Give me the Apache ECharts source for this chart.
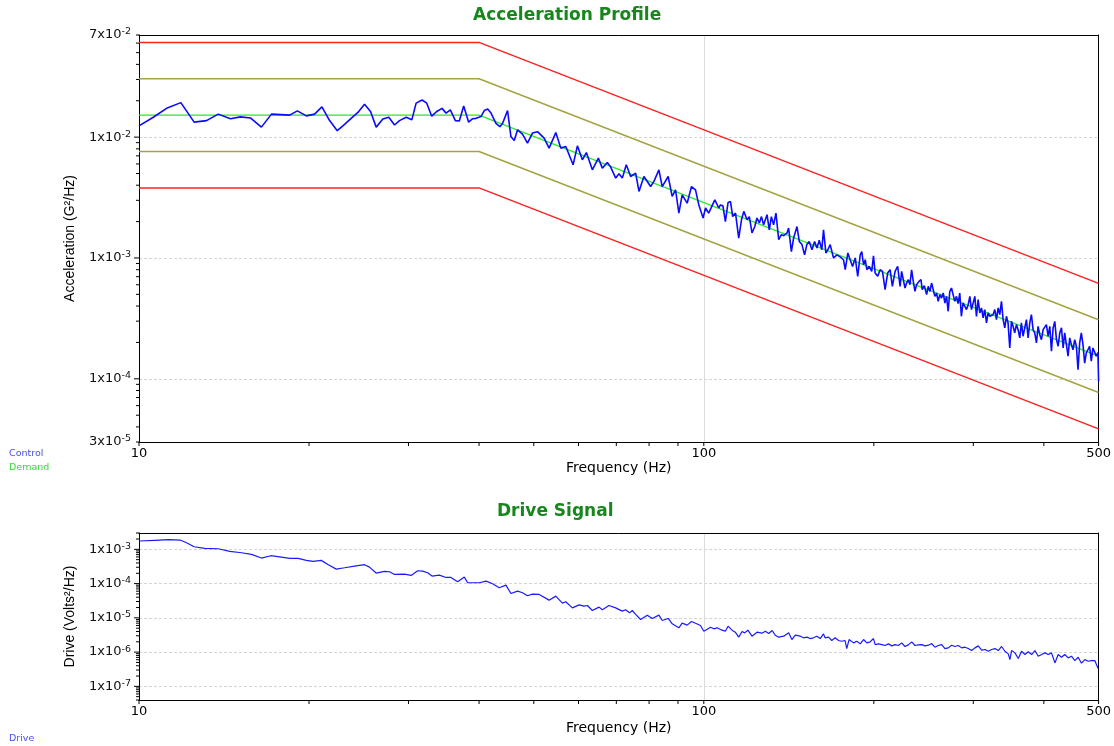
<!DOCTYPE html>
<html><head><meta charset="utf-8">
<script src="https://cdn.jsdelivr.net/npm/echarts@6/dist/echarts.min.js"></script>
<style>html,body{margin:0;padding:0;background:#fff;}#chart{width:1114px;height:746px;}</style>
</head><body><div id="chart"></div>
<script>
// ---- Acceleration profile: reference & tolerance lines (Hz, G^2/Hz) ----
const limitFreq = [10, 40, 500];
const demandPsd = [0.0152, 0.0152, 1.54e-4];
const alarmHighPsd = [0.0304, 0.0304, 3.08e-4];
const alarmLowPsd = [0.0076, 0.0076, 7.7e-5];
const abortHighPsd = [0.0608, 0.0608, 6.16e-4];
const abortLowPsd = [0.0038, 0.0038, 3.85e-5];

// ---- Control (measured) PSD ----
const controlFreq = [10.0,10.6,11.19,11.86,12.52,13.17,13.81,14.52,15.12,15.75,16.47,17.16,18.48,19.07,19.78,20.46,21.08,21.75,22.44,22.96,23.75,24.41,25.08,25.70,26.30,27.02,27.69,28.34,28.92,29.72,30.41,30.95,31.71,32.32,32.98,33.66,34.40,34.97,35.58,36.32,36.91,37.57,38.34,38.97,
39.5,40.32,40.86,41.43,42.0,42.85,43.55,44.03,44.93,45.55,46.17,46.8,47.75,48.73,49.73,50.76,52.15,53.22,54.7,55.82,56.97,58.69,59.73,60.95,61.95,63.49,65.06,66.12,67.48,68.41,69.82,70.77,71.73,72.9,74.22,75.74,76.77,78.34,80.5,81.6,83.27,84.4,86.48,87.9,89.12,90.33,91.56,93.44,95.1,96.67,97.99,99.72,100.7,102.0,104.6,106.3,
107.0,108.1,109.2,110.4,111.5,112.5,113.8,115.3,116.6,117.7,119.3,120.4,121.7,123.1,124.2,125.4,126.5,127.6,129.4,130.6,131.7,132.9,134.2,135.7,137.2,138.5,140.4,141.3,142.9,144.2,146.2,147.6,149.2,150.8,152.2,153.7,155.4,157.1,158.6,160.1,161.8,162.9,164.5,165.8,167.4,168.5,169.7,172.0,174.4,176.7,178.0,179.9,181.6,183.4,185.4,187.3,189.2,190.4,191.8,193.1,194.4,196.2,198.3,199.7,201.1,203.2,205.2,207.2,209.4,211.6,213.7,215.7,218.1,220.4,222.6,
224.0,225.6,227.1,228.6,230.2,231.7,233.3,234.9,236.5,238.1,240.4,242.4,243.6,245.7,248.0,249.7,251.4,253.1,254.8,256.5,258.3,260.0,261.8,263.6,265.4,267.2,269.0,270.8,272.6,274.5,276.3,278.2,280.1,282.0,283.9,285.8,287.7,289.9,291.8,293.8,295.8,297.8,299.8,301.9,303.9,306.0,308.1,310.2,312.3,314.4,316.6,318.7,320.9,323.1,325.3,327.5,329.7,332.0,334.2,336.5,338.8,341.1,343.4,345.7,348.1,350.5,352.8,355.2,357.7,360.1,362.6,365.0,367.5,370.0,372.6,375.1,377.7,380.2,382.8,385.4,388.1,390.7,393.4,396.1,398.8,401.5,404.2,407.0,409.8,412.6,415.4,418.2,421.1,424.0,426.8,429.8,432.7,435.5,438.5,441.5,444.5,447.5,450.5,453.6,456.7,459.8,462.9,466.0,469.2,472.4,475.6,478.8,482.0,485.3,488.6,491.9,495.2,498.6,500.0];
const controlPsd = [0.0124,0.0146,0.0173,0.0193,0.0133,0.0137,0.0155,0.0142,0.0147,0.0144,0.0121,0.0155,0.0152,0.0165,0.0150,0.0155,0.0178,0.0137,0.0113,0.0124,0.0143,0.0160,0.0187,0.0163,0.0121,0.0141,0.0146,0.0126,0.0137,0.0146,0.0139,0.0191,0.0203,0.0191,0.0149,0.0163,0.0173,0.0158,0.0168,0.0137,0.0136,0.0181,0.0133,0.0142,
0.0143,0.0148,0.0166,0.0171,0.0158,0.0130,0.0122,0.0130,0.0166,0.0101,0.00936,0.0115,0.0106,0.00891,0.0108,0.0111,0.0098,0.00811,0.0109,0.00811,0.00836,0.0059,0.00847,0.00649,0.00745,0.00536,0.0067,0.00554,0.00616,0.00565,0.00458,0.00497,0.00458,0.0059,0.00472,0.00504,0.00355,0.00472,0.0039,0.0043,0.00536,0.0039,0.00472,0.00323,0.00366,0.00235,0.00333,0.00284,0.0039,0.00366,0.00275,0.00214,0.00259,0.00235,0.00303,0.00259,
0.00275,0.0027,0.0020,0.00288,0.00293,0.0022,0.00235,0.00146,0.00207,0.00243,0.00207,0.0022,0.00161,0.00182,0.00214,0.00195,0.0022,0.00188,0.00228,0.00171,0.0022,0.00188,0.00235,0.00142,0.00156,0.00153,0.00161,0.00177,0.00113,0.00146,0.00182,0.00137,0.00129,0.00106,0.00129,0.00137,0.00117,0.00137,0.00121,0.0014,0.00117,0.00171,0.0011,0.00117,0.00129,0.00133,0.0010,0.00106,0.00102,0.000967,0.0008,0.0011,0.000967,0.000851,0.001,0.000705,0.00106,0.00113,0.000879,0.000967,0.0008,0.000851,0.000774,0.00104,0.00075,0.000705,0.0008,0.000774,0.000547,0.00075,0.0008,0.000582,0.000774,0.000851,0.000582,
0.000774,0.00075,0.000564,0.00062,0.000661,0.000601,0.000799,0.00064,0.000529,0.000601,0.00064,0.000661,0.000546,0.00059,0.000497,0.000582,0.000529,0.00062,0.000628,0.000481,0.000513,0.000438,0.000497,0.000466,0.000513,0.000424,0.000481,0.000362,0.000529,0.000564,0.000497,0.000438,0.000481,0.000419,0.000513,0.000329,0.000424,0.000398,0.000374,0.000411,0.000481,0.000374,0.000386,0.000481,0.000329,0.000452,0.000351,0.000386,0.000319,0.000374,0.00029,0.000351,0.000329,0.000319,0.00034,0.000374,0.000309,0.000386,0.00034,0.000438,0.000309,0.000264,0.000329,0.00029,0.00018,0.000299,0.000272,0.00024,0.000281,0.000255,0.000218,0.00029,0.000225,0.000264,0.000309,0.000218,0.00029,0.00034,0.000255,0.00024,0.000198,0.000272,0.000232,0.000211,0.000255,0.000255,0.000281,0.000225,0.000272,0.000169,0.000264,0.000299,0.000211,0.000186,0.00024,0.000264,0.00018,0.00024,0.000192,0.000154,0.000218,0.000192,0.000174,0.000211,0.000186,0.000119,0.000198,0.00024,0.000192,0.000135,0.000164,0.000174,0.000186,0.00014,0.00018,0.000174,0.000154,0.000165,0.0000955];

// ---- Drive signal PSD (Volts^2/Hz) ----
const driveFreq = [10.0,10.67,11.27,11.82,12.14,12.52,13.08,13.81,14.48,15.19,15.82,16.47,17.11,17.87,18.49,19.12,19.79,20.33,21.02,21.6,22.35,23.12,24.08,25.08,25.59,26.29,27.2,27.77,28.34,29.51,30.32,31.15,31.79,32.44,33.02,34.02,34.96,35.68,36.66,37.67,
38.19,40.04,41.15,42.27,43.44,44.63,45.55,46.8,47.76,48.74,49.74,51.11,53.23,54.69,56.19,56.96,58.52,60.13,61.37,62.21,63.48,65.23,66.12,67.94,69.8,71.72,72.7,73.9,74.7,75.73,77.28,79.41,81.04,83.27,84.41,86.49,87.91,90.32,91.55,93.43,95.09,96.91,98.65,100.0,101.4,102.8,104.2,105.6,107.7,109.2,110.4,112.2,113.7,115.3,116.9,118.1,119.7,121.7,124.2,126.8,128.5,130.3,132.1,133.8,135.7,138.5,141.3,
143.2,145.2,146.2,148.2,150.2,152.2,154.3,156.4,158.5,160.7,162.9,164.0,166.3,168.5,170.8,173.2,175.5,177.9,179.1,180.8,184.1,186.6,189.2,191.8,194.4,197.0,199.7,201.1,203.8,206.6,209.4,212.3,215.2,218.1,221.0,224.1,227.1,230.2,233.4,236.6,239.8,243.1,246.4,249.8,253.2,256.6,260.1,263.7,267.3,270.9,274.6,278.4,282.2,286.1,290.0,293.9,298.0,302.0,306.2,310.4,314.6,318.9,323.3,327.7,332.2,336.7,341.3,346.0,348.3,350.7,355.5,360.4,365.3,370.3,375.4,380.5,385.7,390.9,396.3,401.7,407.2,412.7,418.4,424.1,429.9,435.7,441.7,447.7,453.8,460.0,466.3,472.7,479.1,485.7,492.3,495.6,499.0,500.0];
const drivePsd = [0.00175,0.00183,0.00191,0.00187,0.00156,0.00119,0.00107,0.00104,0.00087,0.000796,0.000712,0.000557,0.000652,0.000596,0.000545,0.000545,0.000476,0.000445,0.000476,0.000363,0.000265,0.00029,0.000325,0.000356,0.000303,0.000203,0.000227,0.000222,0.000185,0.00019,0.000173,0.000237,0.000232,0.000207,0.000166,0.000177,0.000151,0.000151,0.000113,0.000155,
0.000106,0.000106,0.000118,9.88e-5,7.55e-5,9.03e-5,5.16e-5,6.04e-5,5.4e-5,4.41e-5,4.93e-5,4.82e-5,3.29e-5,4.31e-5,2.69e-5,2.94e-5,1.96e-5,2.4e-5,2.2e-5,2.3e-5,1.64e-5,2.06e-5,1.72e-5,2.3e-5,1.96e-5,1.57e-5,1.72e-5,1.4e-5,1.64e-5,1.26e-5,8.96e-6,1.2e-5,9.6e-6,1.2e-5,8.38e-6,9.6e-6,6.7e-6,5.12e-6,7.0e-6,6.12e-6,7.83e-6,6.85e-6,5.98e-6,4.08e-6,4.67e-6,5.35e-6,4.78e-6,5.12e-6,4.37e-6,4.08e-6,5.71e-6,4.37e-6,3.82e-6,2.73e-6,3.99e-6,3.65e-6,4.37e-6,2.92e-6,3.82e-6,3.57e-6,4.08e-6,3.49e-6,4.27e-6,3.12e-6,2.73e-6,2.92e-6,3.65e-6,
2.33e-6,3.12e-6,3.41e-6,2.92e-6,2.61e-6,2.73e-6,2.49e-6,2.61e-6,2.92e-6,2.49e-6,3.41e-6,2.61e-6,2.73e-6,2.18e-6,2.61e-6,2.18e-6,2.08e-6,2.18e-6,1.27e-6,2.33e-6,1.86e-6,2.08e-6,1.74e-6,2.33e-6,1.86e-6,1.99e-6,2.49e-6,1.66e-6,1.74e-6,1.66e-6,1.56e-6,1.74e-6,1.52e-6,1.66e-6,1.56e-6,1.86e-6,1.46e-6,1.63e-6,1.99e-6,1.56e-6,1.63e-6,1.66e-6,1.52e-6,1.59e-6,1.78e-6,1.39e-6,1.56e-6,1.66e-6,1.27e-6,1.33e-6,1.59e-6,1.46e-6,1.56e-6,1.33e-6,1.39e-6,1.27e-6,1.11e-6,1.33e-6,1.52e-6,1.14e-6,1.19e-6,1.06e-6,1.19e-6,1.27e-6,1.11e-6,1.46e-6,1.06e-6,8.88e-7,6.06e-7,1.11e-6,9.5e-7,6.49e-7,1.06e-6,8.49e-7,1.02e-6,8.49e-7,1.11e-6,7.59e-7,8.49e-7,9.5e-7,8.49e-7,9.5e-7,4.84e-7,8.49e-7,7.1e-7,8.49e-7,6.79e-7,7.59e-7,5.67e-7,7.1e-7,4.74e-7,6.06e-7,5.42e-7,5.67e-7,5.67e-7,6.06e-7,3.31e-7,3.3e-7];

// ---- Axis ranges and tick values ----
const freqRange = [10, 500];
const accelRange = [3e-5, 7e-2];
const driveRange = [4e-8, 3e-3];
const freqTicks = [10,20,30,40,50,60,70,80,90,100,200,300,400,500];
const mantissas = [1,2,3,4,5,6,7,8,9];
function decadeTicks(range) {
  const out = [];
  const e0 = Math.floor(Math.log10(range[0]) + 1e-9), e1 = Math.floor(Math.log10(range[1]) + 1e-9);
  for (let e = e0; e <= e1; e++) for (const m of mantissas) {
    const v = parseFloat((m * Math.pow(10, e)).toPrecision(6));
    if (v >= range[0] * 0.999 && v <= range[1] * 1.001) out.push(v);
  }
  return out;
}
const accelTicks = decadeTicks(accelRange);
const driveTicks = decadeTicks(driveRange);

const FONT = 'Liberation Sans, Arial, sans-serif';
const WIDE = 'DejaVu Sans, Verdana, sans-serif';
const zip = (a, b) => a.map((x, i) => [x, b[i]]);
function isDecade(v) { const l = Math.log10(v); return Math.abs(l - Math.round(l)) < 1e-6; }
function sciLabel(v) {
  const e = Math.floor(Math.log10(v) + 1e-9);
  const m = Math.round(v / Math.pow(10, e));
  return '{m|' + m + 'x10}{e|' + e + '}';
}
const sciRich = {
  m: { fontSize: 13, fontFamily: WIDE, color: '#111', lineHeight: 16 },
  e: { fontSize: 9.5, fontFamily: WIDE, color: '#111', verticalAlign: 'top', lineHeight: 10 }
};

function yAxisCfg(gridIndex, range, name, showEnds, nameGap) {
  return {
    type: 'log', gridIndex, min: range[0], max: range[1], logBase: 10,
    name, nameLocation: 'middle', nameGap, nameMoveOverlap: false,
    nameTextStyle: { fontSize: 14, fontFamily: FONT, color: '#000' },
    axisLine: { show: true, lineStyle: { color: '#000', width: 1 } },
    axisTick: { show: false },
    axisLabel: { show: true, margin: 8, formatter: sciLabel, rich: sciRich, showMinLabel: showEnds, showMaxLabel: showEnds },
    splitLine: { show: true, showMinLine: false, showMaxLine: false, lineStyle: { color: '#d4d4d4', type: [3, 2], width: 1 } },
    minorTick: { show: false }
  };
}
function xAxisCfg(gridIndex, nameGap) {
  return {
    type: 'log', gridIndex, min: freqRange[0], max: freqRange[1], logBase: 10,
    name: 'Frequency (Hz)', nameLocation: 'middle', nameGap, nameMoveOverlap: false,
    nameTextStyle: { fontSize: 14, fontFamily: WIDE, color: '#000' },
    axisLine: { show: true, lineStyle: { color: '#000', width: 1 } },
    axisTick: { show: false },
    axisLabel: { show: true, margin: 5, fontSize: 13, fontFamily: WIDE, color: '#000' },
    splitLine: { show: true, showMinLine: false, showMaxLine: false, lineStyle: { color: '#dcdcdc', width: 1 } }
  };
}
// plain frame axes (top / right border of each plot)
function frameAxis(gridIndex, position) {
  return {
    type: 'value', gridIndex, position, min: 0, max: 1,
    axisLine: { show: true, onZero: false, lineStyle: { color: '#000', width: 1 } },
    axisTick: { show: false }, axisLabel: { show: false }, splitLine: { show: false }
  };
}
function yTickSeries(xi, yi, ticks) {
  return {
    type: 'custom', xAxisIndex: xi, yAxisIndex: yi, silent: true, clip: false, z: 10,
    data: ticks.map(v => [freqRange[0], v]),
    renderItem: function (params, api) {
      const v = api.value(1);
      const p = api.coord([api.value(0), v]);
      const len = isDecade(v) ? 5 : 3;
      return { type: 'line', shape: { x1: p[0] - len, y1: p[1], x2: p[0], y2: p[1] }, style: { stroke: '#000', lineWidth: 1 } };
    }
  };
}
function xTickSeries(xi, yi, yMin) {
  return {
    type: 'custom', xAxisIndex: xi, yAxisIndex: yi, silent: true, clip: false, z: 10,
    data: freqTicks.map(f => [f, yMin]),
    renderItem: function (params, api) {
      const p = api.coord([api.value(0), api.value(1)]);
      return { type: 'line', shape: { x1: p[0], y1: p[1], x2: p[0], y2: p[1] + 4 }, style: { stroke: '#000', lineWidth: 1 } };
    }
  };
}
function lineSeries(name, xi, yi, freq, vals, color, width, z) {
  return { name, type: 'line', xAxisIndex: xi, yAxisIndex: yi, data: zip(freq, vals), showSymbol: false, symbol: 'none',
    lineStyle: { color, width }, itemStyle: { color }, z, animation: false };
}

const chart = echarts.init(document.getElementById('chart'), null, { renderer: 'canvas' });
chart.setOption({
  animation: false,
  backgroundColor: '#fff',
  title: [
    { text: 'Acceleration Profile', left: 473, top: 5, padding: [2, 0, 2, 0], textStyle: { fontSize: 17, fontWeight: 'bold', fontFamily: WIDE, color: '#17861c' } },
    { text: 'Drive Signal', left: 497, top: 501, padding: [2, 0, 2, 0], textStyle: { fontSize: 17, fontWeight: 'bold', fontFamily: WIDE, color: '#17861c' } }
  ],
  legend: [
    { data: [{ name: 'Control', textStyle: { color: '#4b4bff' } }, { name: 'Demand', textStyle: { color: '#33dd33' } }],
      orient: 'vertical', left: 3, top: 449, padding: 0, itemWidth: 0, itemHeight: 0, itemGap: 4, selectedMode: false,
      textStyle: { fontSize: 9.5, fontFamily: WIDE } },
    { data: [{ name: 'Drive', textStyle: { color: '#4b4bff' } }],
      orient: 'vertical', left: 3, top: 734, padding: 0, itemWidth: 0, itemHeight: 0, selectedMode: false,
      textStyle: { fontSize: 9.5, fontFamily: WIDE } }
  ],
  grid: [
    { left: 139, top: 35, width: 962, height: 407, show: false },
    { left: 139, top: 533, width: 962, height: 167, show: false }
  ],
  xAxis: [xAxisCfg(0, 19), xAxisCfg(1, 21), frameAxis(0, 'top'), frameAxis(1, 'top')],
  yAxis: [
    yAxisCfg(0, accelRange, 'Acceleration (G\u00b2/Hz)', true, 62),
    yAxisCfg(1, driveRange, 'Drive (Volts\u00b2/Hz)', false, 62),
    frameAxis(0, 'right'), frameAxis(1, 'right')
  ],
  series: [
    lineSeries('Abort High', 0, 0, limitFreq, abortHighPsd, '#ff2020', 1.5, 2),
    lineSeries('Abort Low', 0, 0, limitFreq, abortLowPsd, '#ff2020', 1.5, 2),
    lineSeries('Alarm High', 0, 0, limitFreq, alarmHighPsd, '#a3a343', 1.5, 2),
    lineSeries('Alarm Low', 0, 0, limitFreq, alarmLowPsd, '#a3a343', 1.5, 2),
    lineSeries('Demand', 0, 0, limitFreq, demandPsd, '#22ee22', 1.2, 3),
    lineSeries('Control', 0, 0, controlFreq, controlPsd, '#0a0aff', 1.6, 4),
    lineSeries('Drive', 1, 1, driveFreq, drivePsd, '#1a1aff', 1.2, 4),
    yTickSeries(0, 0, accelTicks),
    yTickSeries(1, 1, driveTicks),
    xTickSeries(0, 0, accelRange[0]),
    xTickSeries(1, 1, driveRange[0])
  ]
});
</script></body></html>
